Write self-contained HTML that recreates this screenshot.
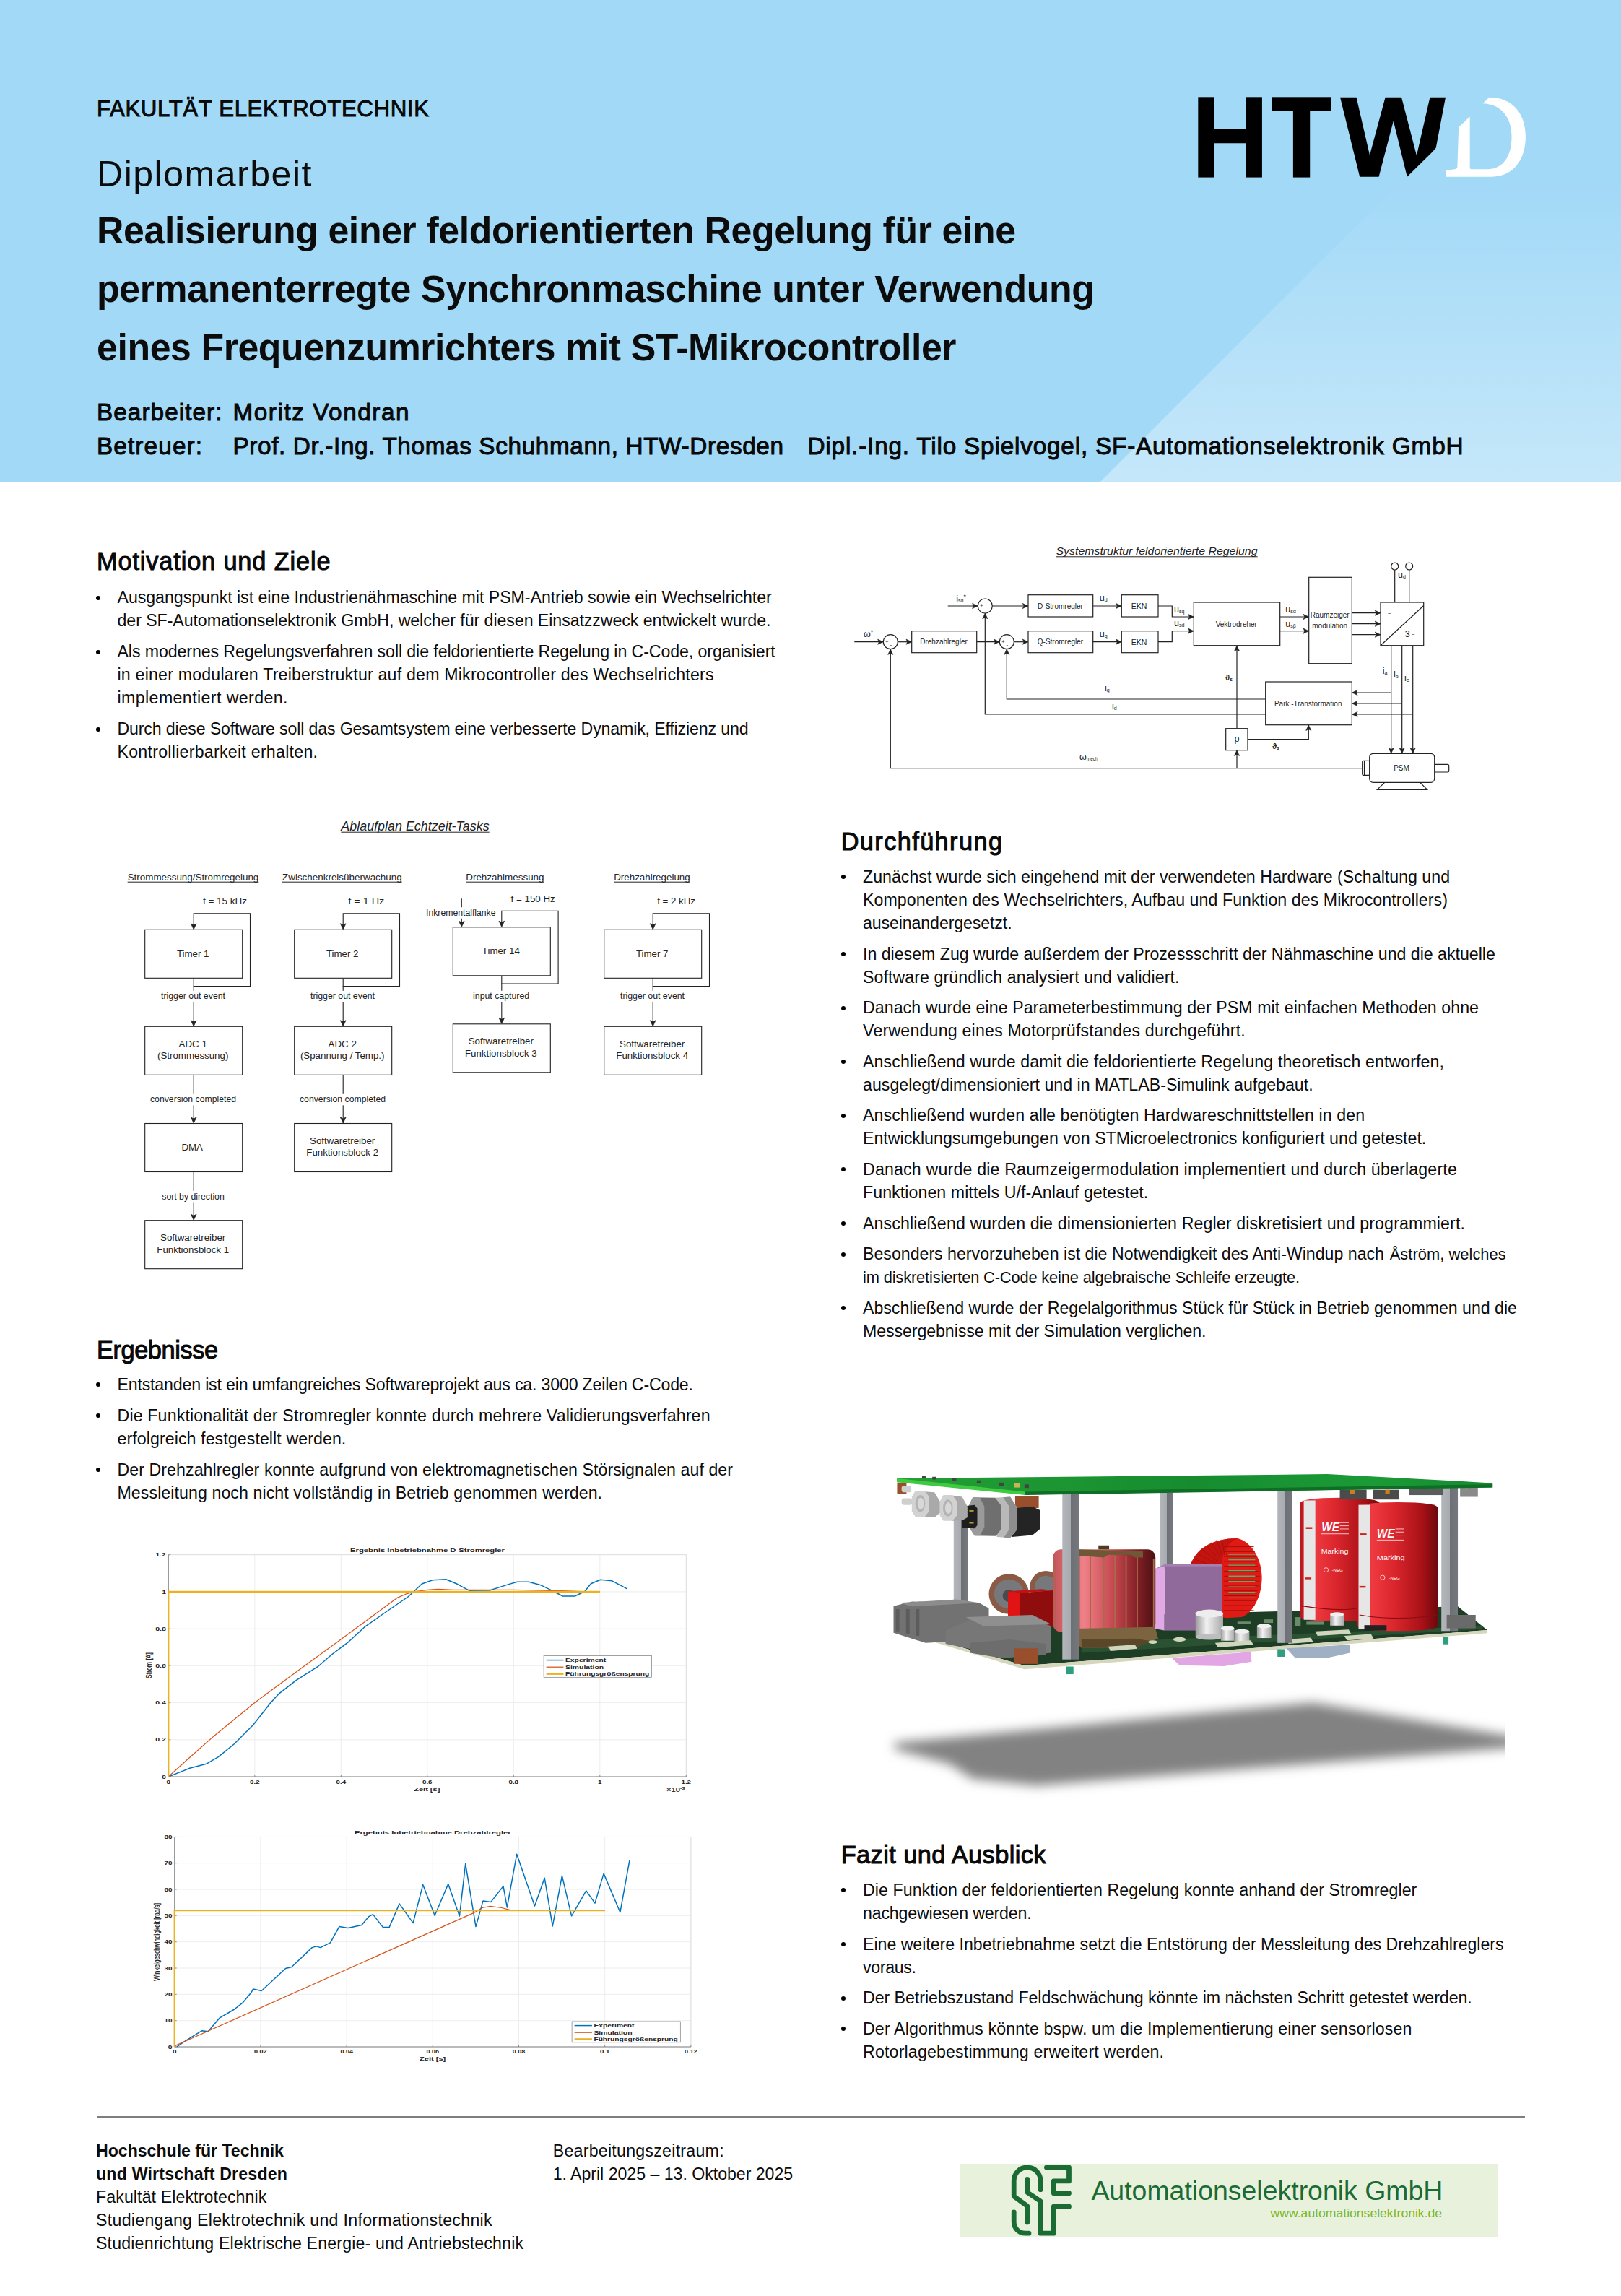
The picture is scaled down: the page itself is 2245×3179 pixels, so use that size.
<!DOCTYPE html>
<html lang="de"><head><meta charset="utf-8"><title>Poster</title>
<style>
html,body{margin:0;padding:0;background:#fff;}
body{width:2245px;height:3179px;position:relative;overflow:hidden;font-family:"Liberation Sans", sans-serif;color:#000;}
.t{position:absolute;white-space:nowrap;line-height:1;color:#0c0c0c;}
.bu{position:absolute;width:6px;height:6px;border-radius:50%;background:#000;display:block;}
.abs{position:absolute;}
svg{position:absolute;overflow:visible;}
svg text{font-family:"Liberation Sans", sans-serif;}

</style></head><body>
<div class="abs" style="left:0;top:0;width:2245px;height:667px;background:#a2d9f7;"></div>
<svg style="left:0;top:0" width="2245" height="667" viewBox="0 0 2245 667">
<defs><linearGradient id="tg" x1="0" y1="0" x2="0" y2="1"><stop offset="0" stop-color="#fff" stop-opacity="0"/><stop offset="1" stop-color="#fff" stop-opacity="0.38"/></linearGradient></defs>
<polygon points="1524,667 1941,250 2245,250 2245,667" fill="url(#tg)"/>
</svg>

<div class="t" style="left:134.0px;top:134.5px;font-size:31.26px;letter-spacing:0.597px;-webkit-text-stroke:0.88px #000;">FAKULTÄT ELEKTROTECHNIK</div>
<div class="t" style="left:134.0px;top:215.7px;font-size:50.02px;letter-spacing:1.521px;">Diplomarbeit</div>
<div class="t" style="left:134.0px;top:293.7px;font-size:51.76px;letter-spacing:-0.349px;font-weight:bold;">Realisierung einer feldorientierten Regelung für eine</div>
<div class="t" style="left:134.0px;top:374.7px;font-size:51.76px;letter-spacing:-0.319px;font-weight:bold;">permanenterregte Synchronmaschine unter Verwendung</div>
<div class="t" style="left:134.0px;top:455.7px;font-size:51.76px;letter-spacing:-0.375px;font-weight:bold;">eines Frequenzumrichters mit ST-Mikrocontroller</div>
<div class="t" style="left:134.0px;top:554.3px;font-size:33.31px;letter-spacing:1.061px;-webkit-text-stroke:0.93px #000;">Bearbeiter:</div>
<div class="t" style="left:322.5px;top:554.3px;font-size:33.31px;letter-spacing:1.542px;-webkit-text-stroke:0.93px #000;">Moritz Vondran</div>
<div class="t" style="left:134.0px;top:600.8px;font-size:33.31px;letter-spacing:1.129px;-webkit-text-stroke:0.93px #000;">Betreuer:</div>
<div class="t" style="left:322.5px;top:600.8px;font-size:33.31px;letter-spacing:0.633px;-webkit-text-stroke:0.93px #000;">Prof. Dr.-Ing. Thomas Schuhmann, HTW-Dresden</div>
<div class="t" style="left:1118.5px;top:600.8px;font-size:33.31px;letter-spacing:0.815px;-webkit-text-stroke:0.93px #000;">Dipl.-Ing. Tilo Spielvogel, SF-Automationselektronik GmbH</div>
<div class="t" style="left:134.0px;top:759.9px;font-size:34.34px;letter-spacing:0.857px;-webkit-text-stroke:0.96px #000;">Motivation und Ziele</div>
<div class="t" style="left:162.5px;top:816.4px;font-size:23.16px;letter-spacing:-0.040px;">Ausgangspunkt ist eine Industrienähmaschine mit PSM-Antrieb sowie ein Wechselrichter</div>
<i class="bu" style="left:132.5px;top:824.5px"></i>
<div class="t" style="left:162.5px;top:848.4px;font-size:23.16px;letter-spacing:-0.060px;">der SF-Automationselektronik GmbH, welcher für diesen Einsatzzweck entwickelt wurde.</div>
<div class="t" style="left:162.5px;top:891.4px;font-size:23.16px;letter-spacing:-0.090px;">Als modernes Regelungsverfahren soll die feldorientierte Regelung in C-Code, organisiert</div>
<i class="bu" style="left:132.5px;top:899.5px"></i>
<div class="t" style="left:162.5px;top:923.4px;font-size:23.16px;letter-spacing:0.203px;">in einer modularen Treiberstruktur auf dem Mikrocontroller des Wechselrichters</div>
<div class="t" style="left:162.5px;top:955.4px;font-size:23.16px;letter-spacing:0.409px;">implementiert werden.</div>
<div class="t" style="left:162.5px;top:998.4px;font-size:23.16px;letter-spacing:-0.152px;">Durch diese Software soll das Gesamtsystem eine verbesserte Dynamik, Effizienz und</div>
<i class="bu" style="left:132.5px;top:1006.5px"></i>
<div class="t" style="left:162.5px;top:1030.4px;font-size:23.16px;letter-spacing:0.266px;">Kontrollierbarkeit erhalten.</div>
<div class="t" style="left:134.0px;top:1851.9px;font-size:34.34px;letter-spacing:-0.417px;-webkit-text-stroke:0.96px #000;">Ergebnisse</div>
<div class="t" style="left:162.5px;top:1905.8px;font-size:23.16px;letter-spacing:-0.179px;">Entstanden ist ein umfangreiches Softwareprojekt aus ca. 3000 Zeilen C-Code.</div>
<i class="bu" style="left:132.5px;top:1913.9px"></i>
<div class="t" style="left:162.5px;top:1948.7px;font-size:23.16px;letter-spacing:0.156px;">Die Funktionalität der Stromregler konnte durch mehrere Validierungsverfahren</div>
<i class="bu" style="left:132.5px;top:1956.8px"></i>
<div class="t" style="left:162.5px;top:1980.9px;font-size:23.16px;letter-spacing:0.088px;">erfolgreich festgestellt werden.</div>
<div class="t" style="left:162.5px;top:2023.8px;font-size:23.16px;letter-spacing:0.071px;">Der Drehzahlregler konnte aufgrund von elektromagnetischen Störsignalen auf der</div>
<i class="bu" style="left:132.5px;top:2031.9px"></i>
<div class="t" style="left:162.5px;top:2056.0px;font-size:23.16px;letter-spacing:0.078px;">Messleitung noch nicht vollständig in Betrieb genommen werden.</div>
<div class="t" style="left:1164.7px;top:1148.4px;font-size:34.34px;letter-spacing:1.391px;-webkit-text-stroke:0.96px #000;">Durchführung</div>
<div class="t" style="left:1195.0px;top:1202.9px;font-size:23.16px;letter-spacing:0.011px;">Zunächst wurde sich eingehend mit der verwendeten Hardware (Schaltung und</div>
<i class="bu" style="left:1164.5px;top:1211.3px"></i>
<div class="t" style="left:1195.0px;top:1235.0px;font-size:23.16px;letter-spacing:0.063px;">Komponenten des Wechselrichters, Aufbau und Funktion des Mikrocontrollers)</div>
<div class="t" style="left:1195.0px;top:1267.1px;font-size:23.16px;letter-spacing:-0.109px;">auseinandergesetzt.</div>
<div class="t" style="left:1195.0px;top:1309.6px;font-size:23.16px;letter-spacing:-0.008px;">In diesem Zug wurde außerdem der Prozessschritt der Nähmaschine und die aktuelle</div>
<i class="bu" style="left:1164.5px;top:1318.0px"></i>
<div class="t" style="left:1195.0px;top:1341.7px;font-size:23.16px;letter-spacing:0.080px;">Software gründlich analysiert und validiert.</div>
<div class="t" style="left:1195.0px;top:1384.3px;font-size:23.16px;letter-spacing:0.066px;">Danach wurde eine Parameterbestimmung der PSM mit einfachen Methoden ohne</div>
<i class="bu" style="left:1164.5px;top:1392.7px"></i>
<div class="t" style="left:1195.0px;top:1416.3px;font-size:23.16px;letter-spacing:0.212px;">Verwendung eines Motorprüfstandes durchgeführt.</div>
<div class="t" style="left:1195.0px;top:1458.9px;font-size:23.16px;letter-spacing:0.110px;">Anschließend wurde damit die feldorientierte Regelung theoretisch entworfen,</div>
<i class="bu" style="left:1164.5px;top:1467.3px"></i>
<div class="t" style="left:1195.0px;top:1490.7px;font-size:23.16px;letter-spacing:0.019px;">ausgelegt/dimensioniert und in MATLAB-Simulink aufgebaut.</div>
<div class="t" style="left:1195.0px;top:1533.3px;font-size:23.16px;letter-spacing:0.079px;">Anschließend wurden alle benötigten Hardwareschnittstellen in den</div>
<i class="bu" style="left:1164.5px;top:1541.7px"></i>
<div class="t" style="left:1195.0px;top:1565.4px;font-size:23.16px;letter-spacing:0.022px;">Entwicklungsumgebungen von STMicroelectronics konfiguriert und getestet.</div>
<div class="t" style="left:1195.0px;top:1607.9px;font-size:23.16px;letter-spacing:0.183px;">Danach wurde die Raumzeigermodulation implementiert und durch überlagerte</div>
<i class="bu" style="left:1164.5px;top:1616.3px"></i>
<div class="t" style="left:1195.0px;top:1640.0px;font-size:23.16px;letter-spacing:0.072px;">Funktionen mittels U/f-Anlauf getestet.</div>
<div class="t" style="left:1195.0px;top:1682.6px;font-size:23.16px;letter-spacing:0.133px;">Anschließend wurden die dimensionierten Regler diskretisiert und programmiert.</div>
<i class="bu" style="left:1164.5px;top:1691.0px"></i>
<div class="t" style="left:1195.0px;top:1725.1px;font-size:23.16px;letter-spacing:-0.002px;">Besonders hervorzuheben ist die Notwendigkeit des Anti-Windup nach</div>
<i class="bu" style="left:1164.5px;top:1733.5px"></i>
<div class="t" style="left:1924.7px;top:1726.2px;font-size:21.83px;letter-spacing:0.062px;">Åström, welches</div>
<div class="t" style="left:1195.0px;top:1758.3px;font-size:21.83px;letter-spacing:-0.144px;">im diskretisierten C-Code keine algebraische Schleife erzeugte.</div>
<div class="t" style="left:1195.0px;top:1799.8px;font-size:23.16px;letter-spacing:-0.018px;">Abschließend wurde der Regelalgorithmus Stück für Stück in Betrieb genommen und die</div>
<i class="bu" style="left:1164.5px;top:1808.2px"></i>
<div class="t" style="left:1195.0px;top:1831.9px;font-size:23.16px;letter-spacing:-0.075px;">Messergebnisse mit der Simulation verglichen.</div>
<div class="t" style="left:1164.7px;top:2551.4px;font-size:34.34px;letter-spacing:0.419px;-webkit-text-stroke:0.96px #000;">Fazit und Ausblick</div>
<div class="t" style="left:1195.0px;top:2606.0px;font-size:23.16px;letter-spacing:0.074px;">Die Funktion der feldorientierten Regelung konnte anhand der Stromregler</div>
<i class="bu" style="left:1164.5px;top:2614.4px"></i>
<div class="t" style="left:1195.0px;top:2638.1px;font-size:23.16px;letter-spacing:-0.167px;">nachgewiesen werden.</div>
<div class="t" style="left:1195.0px;top:2680.6px;font-size:23.16px;letter-spacing:-0.022px;">Eine weitere Inbetriebnahme setzt die Entstörung der Messleitung des Drehzahlreglers</div>
<i class="bu" style="left:1164.5px;top:2689.0px"></i>
<div class="t" style="left:1195.0px;top:2712.7px;font-size:23.16px;letter-spacing:-0.323px;">voraus.</div>
<div class="t" style="left:1195.0px;top:2755.3px;font-size:23.16px;letter-spacing:-0.041px;">Der Betriebszustand Feldschwächung könnte im nächsten Schritt getestet werden.</div>
<i class="bu" style="left:1164.5px;top:2763.7px"></i>
<div class="t" style="left:1195.0px;top:2797.8px;font-size:23.16px;letter-spacing:0.148px;">Der Algorithmus könnte bspw. um die Implementierung einer sensorlosen</div>
<i class="bu" style="left:1164.5px;top:2806.2px"></i>
<div class="t" style="left:1195.0px;top:2829.9px;font-size:23.16px;letter-spacing:0.178px;">Rotorlagebestimmung erweitert werden.</div>
<div class="t" style="left:133.0px;top:2967.3px;font-size:23.16px;letter-spacing:-0.037px;font-weight:bold;">Hochschule für Technik</div>
<div class="t" style="left:133.0px;top:2999.2px;font-size:23.16px;letter-spacing:0.191px;font-weight:bold;">und Wirtschaft Dresden</div>
<div class="t" style="left:133.0px;top:3031.1px;font-size:23.16px;letter-spacing:0.098px;">Fakultät Elektrotechnik</div>
<div class="t" style="left:133.0px;top:3062.9px;font-size:23.16px;letter-spacing:0.293px;">Studiengang Elektrotechnik und Informationstechnik</div>
<div class="t" style="left:133.0px;top:3094.8px;font-size:23.16px;letter-spacing:0.162px;">Studienrichtung Elektrische Energie- und Antriebstechnik</div>
<div class="t" style="left:765.7px;top:2967.3px;font-size:23.16px;letter-spacing:0.261px;">Bearbeitungszeitraum:</div>
<div class="t" style="left:765.7px;top:2999.2px;font-size:23.16px;letter-spacing:-0.030px;">1. April 2025 – 13. Oktober 2025</div>
<svg style="left:0;top:1100px" width="1123" height="700" viewBox="0 1100 1123 700">
<text x="472.3" y="1150.0" font-size="18.4" fill="#222" textLength="205.4" lengthAdjust="spacingAndGlyphs" font-style="italic">Ablaufplan Echtzeit-Tasks</text>
<line x1="472.3" y1="1152.2" x2="677.7" y2="1152.2" stroke="#222" stroke-width="1"/>
<text x="176.7" y="1219.0" font-size="13.3" fill="#222" textLength="181.6" lengthAdjust="spacingAndGlyphs">Strommessung/Stromregelung</text>
<line x1="176.7" y1="1221.2" x2="358.3" y2="1221.2" stroke="#222" stroke-width="1"/>
<text x="391.0" y="1219.0" font-size="13.3" fill="#222" textLength="165.7" lengthAdjust="spacingAndGlyphs">Zwischenkreisüberwachung</text>
<line x1="391.0" y1="1221.2" x2="556.7" y2="1221.2" stroke="#222" stroke-width="1"/>
<text x="645.2" y="1219.0" font-size="13.3" fill="#222" textLength="108.4" lengthAdjust="spacingAndGlyphs">Drehzahlmessung</text>
<line x1="645.2" y1="1221.2" x2="753.6" y2="1221.2" stroke="#222" stroke-width="1"/>
<text x="850.2" y="1219.0" font-size="13.3" fill="#222" textLength="105.5" lengthAdjust="spacingAndGlyphs">Drehzahlregelung</text>
<line x1="850.2" y1="1221.2" x2="955.7" y2="1221.2" stroke="#222" stroke-width="1"/>
<polyline points="268.2,1354.3 268.2,1365.6 346.5,1365.6 346.5,1264.8 268.2,1264.8 268.2,1282.3" fill="none" stroke="#222" stroke-width="1.1"/>
<path d="M268.2 1286.8 L264.4 1278.8 L268.2 1280.8 L272.0 1278.8 Z" fill="#222" stroke="#222" stroke-width="0.8"/>
<rect x="200.7" y="1287.3" width="135.0" height="67.0" fill="#fff" stroke="#222" stroke-width="1.1"/>
<text x="267.2" y="1324.8" font-size="13.3" text-anchor="middle" fill="#222">Timer 1</text>
<text x="281.0" y="1252.3" font-size="13.3" text-anchor="start" fill="#222" textLength="61.0" lengthAdjust="spacingAndGlyphs">f = 15 kHz</text>
<polyline points="268.2,1365.3 268.2,1416.3" fill="none" stroke="#222" stroke-width="1.1"/>
<path d="M268.2 1420.8 L264.4 1412.8 L268.2 1414.8 L272.0 1412.8 Z" fill="#222" stroke="#222" stroke-width="0.8"/>
<rect x="222.0" y="1371.8" width="91.0" height="15.5" fill="#fff"/>
<text x="267.5" y="1383.3" font-size="13.3" text-anchor="middle" fill="#222" textLength="89.0" lengthAdjust="spacingAndGlyphs">trigger out event</text>
<polyline points="475.2,1354.3 475.2,1365.6 553.5,1365.6 553.5,1264.8 475.2,1264.8 475.2,1282.3" fill="none" stroke="#222" stroke-width="1.1"/>
<path d="M475.2 1286.8 L471.4 1278.8 L475.2 1280.8 L479.0 1278.8 Z" fill="#222" stroke="#222" stroke-width="0.8"/>
<rect x="407.7" y="1287.3" width="135.0" height="67.0" fill="#fff" stroke="#222" stroke-width="1.1"/>
<text x="474.2" y="1324.8" font-size="13.3" text-anchor="middle" fill="#222">Timer 2</text>
<text x="482.3" y="1252.3" font-size="13.3" text-anchor="start" fill="#222" textLength="50.0" lengthAdjust="spacingAndGlyphs">f  = 1 Hz</text>
<polyline points="475.2,1365.3 475.2,1416.3" fill="none" stroke="#222" stroke-width="1.1"/>
<path d="M475.2 1420.8 L471.4 1412.8 L475.2 1414.8 L479.0 1412.8 Z" fill="#222" stroke="#222" stroke-width="0.8"/>
<rect x="429.0" y="1371.8" width="91.0" height="15.5" fill="#fff"/>
<text x="474.5" y="1383.3" font-size="13.3" text-anchor="middle" fill="#222" textLength="89.0" lengthAdjust="spacingAndGlyphs">trigger out event</text>
<polyline points="694.8,1350.8 694.8,1362.1 773.1,1362.1 773.1,1261.3 694.8,1261.3 694.8,1278.8" fill="none" stroke="#222" stroke-width="1.1"/>
<path d="M694.8 1283.3 L691.0 1275.3 L694.8 1277.3 L698.6 1275.3 Z" fill="#222" stroke="#222" stroke-width="0.8"/>
<rect x="627.3" y="1283.8" width="135.0" height="67.0" fill="#fff" stroke="#222" stroke-width="1.1"/>
<text x="693.8" y="1321.3" font-size="13.3" text-anchor="middle" fill="#222">Timer 14</text>
<text x="707.6" y="1248.5" font-size="13.3" text-anchor="start" fill="#222" textLength="61.1" lengthAdjust="spacingAndGlyphs">f = 150 Hz</text>
<polyline points="694.8,1361.8 694.8,1412.8" fill="none" stroke="#222" stroke-width="1.1"/>
<path d="M694.8 1417.3 L691.0 1409.3 L694.8 1411.3 L698.6 1409.3 Z" fill="#222" stroke="#222" stroke-width="0.8"/>
<rect x="654.1" y="1371.8" width="80.0" height="15.5" fill="#fff"/>
<text x="694.1" y="1383.3" font-size="13.3" text-anchor="middle" fill="#222" textLength="78.0" lengthAdjust="spacingAndGlyphs">input captured</text>
<polyline points="904.2,1354.3 904.2,1365.6 982.5,1365.6 982.5,1264.8 904.2,1264.8 904.2,1282.3" fill="none" stroke="#222" stroke-width="1.1"/>
<path d="M904.2 1286.8 L900.4 1278.8 L904.2 1280.8 L908.0 1278.8 Z" fill="#222" stroke="#222" stroke-width="0.8"/>
<rect x="836.7" y="1287.3" width="135.0" height="67.0" fill="#fff" stroke="#222" stroke-width="1.1"/>
<text x="903.2" y="1324.8" font-size="13.3" text-anchor="middle" fill="#222">Timer 7</text>
<text x="910.2" y="1252.3" font-size="13.3" text-anchor="start" fill="#222" textLength="52.8" lengthAdjust="spacingAndGlyphs">f = 2 kHz</text>
<polyline points="904.2,1365.3 904.2,1416.3" fill="none" stroke="#222" stroke-width="1.1"/>
<path d="M904.2 1420.8 L900.4 1412.8 L904.2 1414.8 L908.0 1412.8 Z" fill="#222" stroke="#222" stroke-width="0.8"/>
<rect x="858.0" y="1371.8" width="91.0" height="15.5" fill="#fff"/>
<text x="903.5" y="1383.3" font-size="13.3" text-anchor="middle" fill="#222" textLength="89.0" lengthAdjust="spacingAndGlyphs">trigger out event</text>
<polyline points="639.3,1244.3 639.3,1279.0" fill="none" stroke="#222" stroke-width="1.1"/>
<path d="M639.3 1283.3 L635.5 1275.3 L639.3 1277.3 L643.1 1275.3 Z" fill="#222" stroke="#222" stroke-width="0.8"/>
<rect x="589.0" y="1256.2" width="98.5" height="15.5" fill="#fff"/>
<text x="638.3" y="1267.7" font-size="13.3" text-anchor="middle" fill="#222" textLength="96.5" lengthAdjust="spacingAndGlyphs">Inkrementalflanke</text>
<rect x="200.7" y="1421.3" width="135.0" height="67.0" fill="#fff" stroke="#222" stroke-width="1.1"/>
<text x="267.2" y="1449.9" font-size="13.3" text-anchor="middle" fill="#222">ADC 1</text>
<text x="267.2" y="1466.2" font-size="13.3" text-anchor="middle" fill="#222">(Strommessung)</text>
<polyline points="268.2,1488.3 268.2,1550.5" fill="none" stroke="#222" stroke-width="1.1"/>
<path d="M268.2 1555.0 L264.4 1547.0 L268.2 1549.0 L272.0 1547.0 Z" fill="#222" stroke="#222" stroke-width="0.8"/>
<rect x="207.0" y="1514.8" width="121.0" height="15.5" fill="#fff"/>
<text x="267.5" y="1526.3" font-size="13.3" text-anchor="middle" fill="#222" textLength="119.0" lengthAdjust="spacingAndGlyphs">conversion completed</text>
<rect x="200.7" y="1555.5" width="135.0" height="67.0" fill="#fff" stroke="#222" stroke-width="1.1"/>
<text x="266.2" y="1593.0" font-size="13.3" text-anchor="middle" fill="#222">DMA</text>
<polyline points="268.2,1622.5 268.2,1684.7" fill="none" stroke="#222" stroke-width="1.1"/>
<path d="M268.2 1689.2 L264.4 1681.2 L268.2 1683.2 L272.0 1681.2 Z" fill="#222" stroke="#222" stroke-width="0.8"/>
<rect x="223.2" y="1649.0" width="88.5" height="15.5" fill="#fff"/>
<text x="267.5" y="1660.5" font-size="13.3" text-anchor="middle" fill="#222" textLength="86.5" lengthAdjust="spacingAndGlyphs">sort by direction</text>
<rect x="200.7" y="1689.7" width="135.0" height="67.0" fill="#fff" stroke="#222" stroke-width="1.1"/>
<text x="267.2" y="1718.3" font-size="13.3" text-anchor="middle" fill="#222">Softwaretreiber</text>
<text x="267.2" y="1734.6" font-size="13.3" text-anchor="middle" fill="#222">Funktionsblock 1</text>
<rect x="407.7" y="1421.3" width="135.0" height="67.0" fill="#fff" stroke="#222" stroke-width="1.1"/>
<text x="474.2" y="1449.9" font-size="13.3" text-anchor="middle" fill="#222">ADC 2</text>
<text x="474.2" y="1466.2" font-size="13.3" text-anchor="middle" fill="#222">(Spannung / Temp.)</text>
<polyline points="475.2,1488.3 475.2,1550.5" fill="none" stroke="#222" stroke-width="1.1"/>
<path d="M475.2 1555.0 L471.4 1547.0 L475.2 1549.0 L479.0 1547.0 Z" fill="#222" stroke="#222" stroke-width="0.8"/>
<rect x="414.0" y="1514.8" width="121.0" height="15.5" fill="#fff"/>
<text x="474.5" y="1526.3" font-size="13.3" text-anchor="middle" fill="#222" textLength="119.0" lengthAdjust="spacingAndGlyphs">conversion completed</text>
<rect x="407.7" y="1555.5" width="135.0" height="67.0" fill="#fff" stroke="#222" stroke-width="1.1"/>
<text x="474.2" y="1584.1" font-size="13.3" text-anchor="middle" fill="#222">Softwaretreiber</text>
<text x="474.2" y="1600.4" font-size="13.3" text-anchor="middle" fill="#222">Funktionsblock 2</text>
<rect x="627.3" y="1417.8" width="135.0" height="67.0" fill="#fff" stroke="#222" stroke-width="1.1"/>
<text x="693.8" y="1446.4" font-size="13.3" text-anchor="middle" fill="#222">Softwaretreiber</text>
<text x="693.8" y="1462.7" font-size="13.3" text-anchor="middle" fill="#222">Funktionsblock 3</text>
<rect x="836.7" y="1421.3" width="135.0" height="67.0" fill="#fff" stroke="#222" stroke-width="1.1"/>
<text x="903.2" y="1449.9" font-size="13.3" text-anchor="middle" fill="#222">Softwaretreiber</text>
<text x="903.2" y="1466.2" font-size="13.3" text-anchor="middle" fill="#222">Funktionsblock 4</text>
</svg>
<svg style="left:1123px;top:730px" width="1122" height="400" viewBox="1123 730 1122 400">
<text x="1462.5" y="768.3" font-size="15.2" font-style="italic" fill="#222" textLength="279" lengthAdjust="spacingAndGlyphs">Systemstruktur feldorientierte Regelung</text>
<line x1="1462.5" y1="770.8" x2="1741.7" y2="770.8" stroke="#222" stroke-width="1"/>
<polyline points="1752.7,968.0 1394.3,968.0 1394.3,898.9" fill="none" stroke="#222" stroke-width="1.2"/>
<polygon points="1394.3,898.9 1390.7,906.4 1394.3,904.6 1397.9,906.4" fill="#222" stroke="#222" stroke-width="0.6"/>
<polyline points="1752.7,989.0 1364.3,989.0 1364.3,849.2" fill="none" stroke="#222" stroke-width="1.2"/>
<polygon points="1364.3,849.2 1360.7,856.7 1364.3,854.9 1367.9,856.7" fill="#222" stroke="#222" stroke-width="0.6"/>
<polyline points="1886.7,1063.7 1233.3,1063.7 1233.3,898.9" fill="none" stroke="#222" stroke-width="1.2"/>
<polygon points="1233.3,898.9 1229.7,906.4 1233.3,904.6 1236.9,906.4" fill="#222" stroke="#222" stroke-width="0.6"/>
<polyline points="1713.0,1063.7 1713.0,1038.9" fill="none" stroke="#222" stroke-width="1.2"/>
<polygon points="1713.0,1038.9 1709.4,1046.4 1713.0,1044.6 1716.6,1046.4" fill="#222" stroke="#222" stroke-width="0.6"/>
<polyline points="1713.0,1008.7 1713.0,894.0" fill="none" stroke="#222" stroke-width="1.2"/>
<polygon points="1713.0,894.0 1709.4,901.5 1713.0,899.7 1716.6,901.5" fill="#222" stroke="#222" stroke-width="0.6"/>
<polyline points="1728.0,1023.7 1812.3,1023.7 1812.3,1004.0" fill="none" stroke="#222" stroke-width="1.2"/>
<polygon points="1812.3,1004.0 1808.7,1011.5 1812.3,1009.7 1815.9,1011.5" fill="#222" stroke="#222" stroke-width="0.6"/>
<polyline points="1183.3,888.7 1223.1,888.7" fill="none" stroke="#222" stroke-width="1.2"/>
<polygon points="1223.1,888.7 1215.6,885.1 1217.4,888.7 1215.6,892.3" fill="#222" stroke="#222" stroke-width="0.6"/>
<polyline points="1243.3,888.7 1262.5,888.7" fill="none" stroke="#222" stroke-width="1.2"/>
<polygon points="1262.5,888.7 1255.0,885.1 1256.8,888.7 1255.0,892.3" fill="#222" stroke="#222" stroke-width="0.6"/>
<polyline points="1352.7,888.7 1384.1,888.7" fill="none" stroke="#222" stroke-width="1.2"/>
<polygon points="1384.1,888.7 1376.6,885.1 1378.4,888.7 1376.6,892.3" fill="#222" stroke="#222" stroke-width="0.6"/>
<polyline points="1404.3,888.7 1423.8,888.7" fill="none" stroke="#222" stroke-width="1.2"/>
<polygon points="1423.8,888.7 1416.3,885.1 1418.1,888.7 1416.3,892.3" fill="#222" stroke="#222" stroke-width="0.6"/>
<polyline points="1312.7,839.0 1354.1,839.0" fill="none" stroke="#222" stroke-width="1.2"/>
<polygon points="1354.1,839.0 1346.6,835.4 1348.4,839.0 1346.6,842.6" fill="#222" stroke="#222" stroke-width="0.6"/>
<polyline points="1374.3,839.0 1423.8,839.0" fill="none" stroke="#222" stroke-width="1.2"/>
<polygon points="1423.8,839.0 1416.3,835.4 1418.1,839.0 1416.3,842.6" fill="#222" stroke="#222" stroke-width="0.6"/>
<polyline points="1513.7,839.0 1553.1,839.0" fill="none" stroke="#222" stroke-width="1.2"/>
<polygon points="1553.1,839.0 1545.6,835.4 1547.4,839.0 1545.6,842.6" fill="#222" stroke="#222" stroke-width="0.6"/>
<polyline points="1513.7,888.7 1553.1,888.7" fill="none" stroke="#222" stroke-width="1.2"/>
<polygon points="1553.1,888.7 1545.6,885.1 1547.4,888.7 1545.6,892.3" fill="#222" stroke="#222" stroke-width="0.6"/>
<polyline points="1604.0,839.0 1623.3,839.0 1623.3,854.0 1653.1,854.0" fill="none" stroke="#222" stroke-width="1.2"/>
<polygon points="1653.1,854.0 1645.6,850.4 1647.4,854.0 1645.6,857.6" fill="#222" stroke="#222" stroke-width="0.6"/>
<polyline points="1604.0,888.7 1623.3,888.7 1623.3,873.7 1653.1,873.7" fill="none" stroke="#222" stroke-width="1.2"/>
<polygon points="1653.1,873.7 1645.6,870.1 1647.4,873.7 1645.6,877.3" fill="#222" stroke="#222" stroke-width="0.6"/>
<polyline points="1772.7,854.0 1812.5,854.0" fill="none" stroke="#222" stroke-width="1.2"/>
<polygon points="1812.5,854.0 1805.0,850.4 1806.8,854.0 1805.0,857.6" fill="#222" stroke="#222" stroke-width="0.6"/>
<polyline points="1772.7,873.7 1812.5,873.7" fill="none" stroke="#222" stroke-width="1.2"/>
<polygon points="1812.5,873.7 1805.0,870.1 1806.8,873.7 1805.0,877.3" fill="#222" stroke="#222" stroke-width="0.6"/>
<polyline points="1872.3,848.7 1911.8,848.7" fill="none" stroke="#222" stroke-width="1.2"/>
<polygon points="1911.8,848.7 1904.3,845.1 1906.1,848.7 1904.3,852.3" fill="#222" stroke="#222" stroke-width="0.6"/>
<polyline points="1872.3,863.7 1911.8,863.7" fill="none" stroke="#222" stroke-width="1.2"/>
<polygon points="1911.8,863.7 1904.3,860.1 1906.1,863.7 1904.3,867.3" fill="#222" stroke="#222" stroke-width="0.6"/>
<polyline points="1872.3,878.7 1911.8,878.7" fill="none" stroke="#222" stroke-width="1.2"/>
<polygon points="1911.8,878.7 1904.3,875.1 1906.1,878.7 1904.3,882.3" fill="#222" stroke="#222" stroke-width="0.6"/>
<polyline points="1926.7,893.7 1926.7,1043.1" fill="none" stroke="#222" stroke-width="1.2"/>
<polygon points="1926.7,1043.1 1923.1,1035.6 1926.7,1037.4 1930.3,1035.6" fill="#222" stroke="#222" stroke-width="0.6"/>
<polyline points="1926.7,959.0 1872.6,959.0" fill="none" stroke="#222" stroke-width="1.2"/>
<polygon points="1872.6,959.0 1880.1,955.4 1878.3,959.0 1880.1,962.6" fill="#222" stroke="#222" stroke-width="0.6"/>
<polyline points="1941.7,893.7 1941.7,1043.1" fill="none" stroke="#222" stroke-width="1.2"/>
<polygon points="1941.7,1043.1 1938.1,1035.6 1941.7,1037.4 1945.3,1035.6" fill="#222" stroke="#222" stroke-width="0.6"/>
<polyline points="1941.7,974.0 1872.6,974.0" fill="none" stroke="#222" stroke-width="1.2"/>
<polygon points="1872.6,974.0 1880.1,970.4 1878.3,974.0 1880.1,977.6" fill="#222" stroke="#222" stroke-width="0.6"/>
<polyline points="1956.7,893.7 1956.7,1043.1" fill="none" stroke="#222" stroke-width="1.2"/>
<polygon points="1956.7,1043.1 1953.1,1035.6 1956.7,1037.4 1960.3,1035.6" fill="#222" stroke="#222" stroke-width="0.6"/>
<polyline points="1956.7,989.0 1872.6,989.0" fill="none" stroke="#222" stroke-width="1.2"/>
<polygon points="1872.6,989.0 1880.1,985.4 1878.3,989.0 1880.1,992.6" fill="#222" stroke="#222" stroke-width="0.6"/>
<polyline points="1931.7,789.0 1931.7,834.0" fill="none" stroke="#222" stroke-width="1.2"/>
<circle cx="1931.7" cy="784.0" r="5.0" fill="#fff" stroke="#222" stroke-width="1.2"/>
<polyline points="1951.7,789.0 1951.7,834.0" fill="none" stroke="#222" stroke-width="1.2"/>
<circle cx="1951.7" cy="784.0" r="5.0" fill="#fff" stroke="#222" stroke-width="1.2"/>
<circle cx="1233.3" cy="888.7" r="10.0" fill="#fff" stroke="#222" stroke-width="1.2"/>
<text x="1228.3" y="890.7" font-size="7" text-anchor="middle" fill="#222">+</text>
<text x="1233.8" y="895.2" font-size="8" text-anchor="middle" fill="#222">-</text>
<circle cx="1364.3" cy="839.0" r="10.0" fill="#fff" stroke="#222" stroke-width="1.2"/>
<text x="1359.3" y="841.0" font-size="7" text-anchor="middle" fill="#222">+</text>
<text x="1364.8" y="845.5" font-size="8" text-anchor="middle" fill="#222">-</text>
<circle cx="1394.3" cy="888.7" r="10.0" fill="#fff" stroke="#222" stroke-width="1.2"/>
<text x="1389.3" y="890.7" font-size="7" text-anchor="middle" fill="#222">+</text>
<text x="1394.8" y="895.2" font-size="8" text-anchor="middle" fill="#222">-</text>
<rect x="1262.7" y="873.7" width="90.0" height="30.0" rx="0" fill="#fff" stroke="#222" stroke-width="1.2"/>
<text x="1307.0" y="892.3" font-size="10" text-anchor="middle" fill="#222">Drehzahlregler</text>
<rect x="1424.0" y="823.7" width="89.7" height="30.3" rx="0" fill="#fff" stroke="#222" stroke-width="1.2"/>
<text x="1468.5" y="842.6" font-size="10" text-anchor="middle" fill="#222">D-Stromregler</text>
<rect x="1424.0" y="873.7" width="89.7" height="30.0" rx="0" fill="#fff" stroke="#222" stroke-width="1.2"/>
<text x="1468.5" y="892.3" font-size="10" text-anchor="middle" fill="#222">Q-Stromregler</text>
<rect x="1553.3" y="823.7" width="50.7" height="30.3" rx="0" fill="#fff" stroke="#222" stroke-width="1.2"/>
<text x="1577.5" y="842.8" font-size="10.5" text-anchor="middle" fill="#222">EKN</text>
<rect x="1553.3" y="873.7" width="50.7" height="30.0" rx="0" fill="#fff" stroke="#222" stroke-width="1.2"/>
<text x="1577.5" y="892.5" font-size="10.5" text-anchor="middle" fill="#222">EKN</text>
<rect x="1653.3" y="834.0" width="119.4" height="59.7" rx="0" fill="#fff" stroke="#222" stroke-width="1.2"/>
<text x="1712.3" y="867.7" font-size="10" text-anchor="middle" fill="#222">Vektrodreher</text>
<rect x="1812.7" y="799.3" width="59.6" height="119.4" rx="0" fill="#fff" stroke="#222" stroke-width="1.2"/>
<text x="1841.7" y="855.0" font-size="10" text-anchor="middle" fill="#222">Raumzeiger</text>
<text x="1841.7" y="869.6" font-size="10" text-anchor="middle" fill="#222">modulation</text>
<rect x="1912.0" y="834.0" width="59.7" height="59.7" rx="0" fill="#fff" stroke="#222" stroke-width="1.2"/>
<polyline points="1912.0,893.7 1971.7,838.5" fill="none" stroke="#222" stroke-width="1.2"/>
<text x="1921.7" y="851.0" font-size="9" text-anchor="start" fill="#222">=</text>
<text x="1945.7" y="882.3" font-size="12.5" text-anchor="start" fill="#222">3</text>
<text x="1954.7" y="881.0" font-size="8" text-anchor="start" fill="#222">~</text>
<rect x="1752.7" y="944.0" width="119.6" height="59.7" rx="0" fill="#fff" stroke="#222" stroke-width="1.2"/>
<text x="1811.7" y="977.5" font-size="10" text-anchor="middle" fill="#222">Park -Transformation</text>
<rect x="1697.7" y="1008.7" width="30.3" height="30.0" rx="0" fill="#fff" stroke="#222" stroke-width="1.2"/>
<text x="1713.0" y="1026.7" font-size="12.5" text-anchor="middle" fill="#222">p</text>
<rect x="1886.7" y="1053.3" width="10.3" height="20.0" rx="1.5" fill="#fff" stroke="#222" stroke-width="1.2"/>
<polyline points="1889.5,1053.3 1889.5,1073.3" fill="none" stroke="#222" stroke-width="1.2"/>
<rect x="1986.4" y="1058.3" width="20.3" height="10.7" rx="2" fill="#fff" stroke="#222" stroke-width="1.2"/>
<polygon points="1917.7,1083.3 1966.7,1083.3 1976.7,1093.3 1907.3,1093.3" fill="#fff" stroke="#222" stroke-width="1.2"/>
<rect x="1896.7" y="1043.3" width="90.0" height="40.0" rx="5" fill="#fff" stroke="#222" stroke-width="1.2"/>
<text x="1941.0" y="1067.0" font-size="10" text-anchor="middle" fill="#222">PSM</text>
<text x="1196" y="881.7" font-size="12.5" fill="#222">ω<tspan font-size="9" dy="-4">*</tspan></text>
<text x="1324.3" y="832.7" font-size="12.5" fill="#222">i<tspan font-size="7" dy="1">sd</tspan><tspan font-size="9" dy="-5">*</tspan></text>
<text x="1522.7" y="832.3" font-size="12.5" fill="#222">u<tspan font-size="7" dy="1">d</tspan></text>
<text x="1522.7" y="881.7" font-size="12.5" fill="#222">u<tspan font-size="7" dy="1">q</tspan></text>
<text x="1626.0" y="847.5" font-size="12.5" fill="#222">u<tspan font-size="7" dy="1">sq</tspan></text>
<text x="1626.0" y="867.3" font-size="12.5" fill="#222">u<tspan font-size="7" dy="1">sd</tspan></text>
<text x="1780.3" y="847.7" font-size="12.5" fill="#222">u<tspan font-size="7" dy="1">sα</tspan></text>
<text x="1780.3" y="867.7" font-size="12.5" fill="#222">u<tspan font-size="7" dy="1">sβ</tspan></text>
<text x="1936.0" y="800.0" font-size="12.5" fill="#222">u<tspan font-size="7" dy="1">d</tspan></text>
<text x="1914.7" y="932.7" font-size="12.5" fill="#222">i<tspan font-size="7" dy="1">a</tspan></text>
<text x="1930.0" y="937.7" font-size="12.5" fill="#222">i<tspan font-size="7" dy="1">b</tspan></text>
<text x="1945.0" y="942.7" font-size="12.5" fill="#222">i<tspan font-size="7" dy="1">c</tspan></text>
<text x="1530.0" y="956.7" font-size="12.5" fill="#222">i<tspan font-size="7" dy="1">q</tspan></text>
<text x="1540.0" y="981.7" font-size="12.5" fill="#222">i<tspan font-size="7" dy="1">d</tspan></text>
<text x="1495.0" y="1051.7" font-size="12.5" fill="#222">ω<tspan font-size="6.5" dy="1">mech</tspan></text>
<text x="1697.3" y="941.7" font-size="10" font-weight="bold" fill="#222">ϑ<tspan font-size="6.5" dy="1">s</tspan></text>
<text x="1762.3" y="1036.7" font-size="10" font-weight="bold" fill="#222">ϑ<tspan font-size="6.5" dy="1">s</tspan></text>
</svg>
<svg style="left:0;top:2120px" width="1123" height="380" viewBox="0 2120 1123 380">
<line x1="233.3" y1="2152.7" x2="233.3" y2="2460.0" stroke="#e9e9e9" stroke-width="0.8"/>
<line x1="352.8" y1="2152.7" x2="352.8" y2="2460.0" stroke="#e9e9e9" stroke-width="0.8"/>
<line x1="472.3" y1="2152.7" x2="472.3" y2="2460.0" stroke="#e9e9e9" stroke-width="0.8"/>
<line x1="591.8" y1="2152.7" x2="591.8" y2="2460.0" stroke="#e9e9e9" stroke-width="0.8"/>
<line x1="711.3" y1="2152.7" x2="711.3" y2="2460.0" stroke="#e9e9e9" stroke-width="0.8"/>
<line x1="830.8" y1="2152.7" x2="830.8" y2="2460.0" stroke="#e9e9e9" stroke-width="0.8"/>
<line x1="950.3" y1="2152.7" x2="950.3" y2="2460.0" stroke="#e9e9e9" stroke-width="0.8"/>
<line x1="233.3" y1="2460.0" x2="950.3" y2="2460.0" stroke="#e9e9e9" stroke-width="0.8"/>
<line x1="233.3" y1="2408.8" x2="950.3" y2="2408.8" stroke="#e9e9e9" stroke-width="0.8"/>
<line x1="233.3" y1="2357.6" x2="950.3" y2="2357.6" stroke="#e9e9e9" stroke-width="0.8"/>
<line x1="233.3" y1="2306.3" x2="950.3" y2="2306.3" stroke="#e9e9e9" stroke-width="0.8"/>
<line x1="233.3" y1="2255.1" x2="950.3" y2="2255.1" stroke="#e9e9e9" stroke-width="0.8"/>
<line x1="233.3" y1="2203.9" x2="950.3" y2="2203.9" stroke="#e9e9e9" stroke-width="0.8"/>
<line x1="233.3" y1="2152.7" x2="950.3" y2="2152.7" stroke="#e9e9e9" stroke-width="0.8"/>
<rect x="233.3" y="2152.7" width="717.0" height="307.3" fill="none" stroke="#dcdcdc" stroke-width="0.8"/>
<polyline points="233.3,2152.7 233.3,2460.0 950.3,2460.0" fill="none" stroke="#8a8a8a" stroke-width="1"/>
<line x1="233.3" y1="2460.0" x2="233.3" y2="2457.0" stroke="#777" stroke-width="0.8"/>
<text x="230.6" y="2470.0" font-size="7.3" font-weight="bold" fill="#222" textLength="5.5" lengthAdjust="spacingAndGlyphs">0</text>
<line x1="352.8" y1="2460.0" x2="352.8" y2="2457.0" stroke="#777" stroke-width="0.8"/>
<text x="346.1" y="2470.0" font-size="7.3" font-weight="bold" fill="#222" textLength="13.5" lengthAdjust="spacingAndGlyphs">0.2</text>
<line x1="472.3" y1="2460.0" x2="472.3" y2="2457.0" stroke="#777" stroke-width="0.8"/>
<text x="465.6" y="2470.0" font-size="7.3" font-weight="bold" fill="#222" textLength="13.5" lengthAdjust="spacingAndGlyphs">0.4</text>
<line x1="591.8" y1="2460.0" x2="591.8" y2="2457.0" stroke="#777" stroke-width="0.8"/>
<text x="585.0" y="2470.0" font-size="7.3" font-weight="bold" fill="#222" textLength="13.5" lengthAdjust="spacingAndGlyphs">0.6</text>
<line x1="711.3" y1="2460.0" x2="711.3" y2="2457.0" stroke="#777" stroke-width="0.8"/>
<text x="704.5" y="2470.0" font-size="7.3" font-weight="bold" fill="#222" textLength="13.5" lengthAdjust="spacingAndGlyphs">0.8</text>
<line x1="830.8" y1="2460.0" x2="830.8" y2="2457.0" stroke="#777" stroke-width="0.8"/>
<text x="828.0" y="2470.0" font-size="7.3" font-weight="bold" fill="#222" textLength="5.5" lengthAdjust="spacingAndGlyphs">1</text>
<line x1="950.3" y1="2460.0" x2="950.3" y2="2457.0" stroke="#777" stroke-width="0.8"/>
<text x="943.5" y="2470.0" font-size="7.3" font-weight="bold" fill="#222" textLength="13.5" lengthAdjust="spacingAndGlyphs">1.2</text>
<line x1="233.3" y1="2460.0" x2="236.3" y2="2460.0" stroke="#777" stroke-width="0.8"/>
<text x="224.3" y="2462.6" font-size="7.3" font-weight="bold" fill="#222" textLength="5.7" lengthAdjust="spacingAndGlyphs">0</text>
<line x1="233.3" y1="2408.8" x2="236.3" y2="2408.8" stroke="#777" stroke-width="0.8"/>
<text x="215.2" y="2411.4" font-size="7.3" font-weight="bold" fill="#222" textLength="14.8" lengthAdjust="spacingAndGlyphs">0.2</text>
<line x1="233.3" y1="2357.6" x2="236.3" y2="2357.6" stroke="#777" stroke-width="0.8"/>
<text x="215.2" y="2360.2" font-size="7.3" font-weight="bold" fill="#222" textLength="14.8" lengthAdjust="spacingAndGlyphs">0.4</text>
<line x1="233.3" y1="2306.3" x2="236.3" y2="2306.3" stroke="#777" stroke-width="0.8"/>
<text x="215.2" y="2308.9" font-size="7.3" font-weight="bold" fill="#222" textLength="14.8" lengthAdjust="spacingAndGlyphs">0.6</text>
<line x1="233.3" y1="2255.1" x2="236.3" y2="2255.1" stroke="#777" stroke-width="0.8"/>
<text x="215.2" y="2257.7" font-size="7.3" font-weight="bold" fill="#222" textLength="14.8" lengthAdjust="spacingAndGlyphs">0.8</text>
<line x1="233.3" y1="2203.9" x2="236.3" y2="2203.9" stroke="#777" stroke-width="0.8"/>
<text x="224.3" y="2206.5" font-size="7.3" font-weight="bold" fill="#222" textLength="5.7" lengthAdjust="spacingAndGlyphs">1</text>
<line x1="233.3" y1="2152.7" x2="236.3" y2="2152.7" stroke="#777" stroke-width="0.8"/>
<text x="215.2" y="2155.3" font-size="7.3" font-weight="bold" fill="#222" textLength="14.8" lengthAdjust="spacingAndGlyphs">1.2</text>
<text x="485.0" y="2149.3" font-size="7.3" font-weight="bold" fill="#222" textLength="214.0" lengthAdjust="spacingAndGlyphs">Ergebnis Inbetriebnahme D-Stromregler</text>
<text x="573.3" y="2480.0" font-size="7.3" font-weight="bold" fill="#222" textLength="36.0" lengthAdjust="spacingAndGlyphs">Zeit [s]</text>
<text transform="translate(209.7,2324.0) rotate(-90)" font-size="10.5" fill="#111" stroke="#111" stroke-width="0.25" textLength="36.0" lengthAdjust="spacingAndGlyphs">Strom [A]</text>
<polyline points="233.3,2460.0 262.7,2448.3 285.7,2442.3 302.3,2432.7 324.0,2415.0 350.7,2388.3 374.3,2358.3 385.7,2345.7 410.0,2326.7 440.0,2307.7 459.3,2291.0 482.7,2273.3 505.0,2252.7 530.0,2235.0 565.0,2211.0 574.0,2202.7 584.3,2193.0 599.0,2187.7 617.7,2186.7 633.3,2193.3 650.0,2202.3 678.3,2202.0 703.6,2193.9 716.2,2190.3 732.4,2190.3 748.1,2194.4 761.7,2200.9 779.4,2210.0 796.1,2210.0 809.8,2203.5 818.4,2192.8 831.5,2187.3 847.7,2188.8 868.5,2199.9" fill="none" stroke="#0072bd" stroke-width="1.5" stroke-linejoin="round"/>
<polyline points="233.3,2460.0 257.2,2438.2 296.6,2403.4 352.8,2357.6 412.6,2313.3 472.3,2269.7 532.0,2225.7 550.0,2212.4 561.9,2207.2 573.9,2203.9 591.8,2201.3 606.7,2200.3 627.7,2201.3 711.3,2201.3 771.0,2202.4 812.9,2203.9 830.8,2203.9" fill="none" stroke="#d95319" stroke-width="1.25" stroke-linejoin="round"/>
<polyline points="233.3,2460.0 233.3,2203.9 830.8,2203.9" fill="none" stroke="#edb120" stroke-width="2.2" stroke-linejoin="round"/>
<rect x="753.1" y="2292.5" width="149.3" height="29.8" fill="#fff" stroke="#7a7a7a" stroke-width="0.7"/>
<line x1="756.7" y1="2298.6" x2="780.5" y2="2298.6" stroke="#0072bd" stroke-width="1.5"/>
<text x="783.0" y="2301.1" font-size="7" font-weight="bold" fill="#222" textLength="56.1" lengthAdjust="spacingAndGlyphs">Experiment</text>
<line x1="756.7" y1="2308.2" x2="780.5" y2="2308.2" stroke="#d95319" stroke-width="1.25"/>
<text x="783.0" y="2310.7" font-size="7" font-weight="bold" fill="#222" textLength="53.1" lengthAdjust="spacingAndGlyphs">Simulation</text>
<line x1="756.7" y1="2317.8" x2="780.5" y2="2317.8" stroke="#edb120" stroke-width="2.2"/>
<text x="783.0" y="2320.3" font-size="7" font-weight="bold" fill="#222" textLength="116.3" lengthAdjust="spacingAndGlyphs">Führungsgrößensprung</text>
<text x="923" y="2481.2" font-size="8.5" fill="#222" stroke="#222" stroke-width="0.2" textLength="26" lengthAdjust="spacingAndGlyphs">×10<tspan font-size="6" dy="-3.5">-3</tspan></text>
</svg>
<svg style="left:0;top:2500px" width="1123" height="390" viewBox="0 2500 1123 390">
<line x1="241.7" y1="2543.4" x2="241.7" y2="2834.0" stroke="#e9e9e9" stroke-width="0.8"/>
<line x1="360.9" y1="2543.4" x2="360.9" y2="2834.0" stroke="#e9e9e9" stroke-width="0.8"/>
<line x1="480.1" y1="2543.4" x2="480.1" y2="2834.0" stroke="#e9e9e9" stroke-width="0.8"/>
<line x1="599.3" y1="2543.4" x2="599.3" y2="2834.0" stroke="#e9e9e9" stroke-width="0.8"/>
<line x1="718.5" y1="2543.4" x2="718.5" y2="2834.0" stroke="#e9e9e9" stroke-width="0.8"/>
<line x1="837.7" y1="2543.4" x2="837.7" y2="2834.0" stroke="#e9e9e9" stroke-width="0.8"/>
<line x1="956.9" y1="2543.4" x2="956.9" y2="2834.0" stroke="#e9e9e9" stroke-width="0.8"/>
<line x1="241.7" y1="2834.0" x2="956.9" y2="2834.0" stroke="#e9e9e9" stroke-width="0.8"/>
<line x1="241.7" y1="2797.7" x2="956.9" y2="2797.7" stroke="#e9e9e9" stroke-width="0.8"/>
<line x1="241.7" y1="2761.3" x2="956.9" y2="2761.3" stroke="#e9e9e9" stroke-width="0.8"/>
<line x1="241.7" y1="2725.0" x2="956.9" y2="2725.0" stroke="#e9e9e9" stroke-width="0.8"/>
<line x1="241.7" y1="2688.7" x2="956.9" y2="2688.7" stroke="#e9e9e9" stroke-width="0.8"/>
<line x1="241.7" y1="2652.3" x2="956.9" y2="2652.3" stroke="#e9e9e9" stroke-width="0.8"/>
<line x1="241.7" y1="2616.0" x2="956.9" y2="2616.0" stroke="#e9e9e9" stroke-width="0.8"/>
<line x1="241.7" y1="2579.7" x2="956.9" y2="2579.7" stroke="#e9e9e9" stroke-width="0.8"/>
<line x1="241.7" y1="2543.4" x2="956.9" y2="2543.4" stroke="#e9e9e9" stroke-width="0.8"/>
<rect x="241.7" y="2543.4" width="715.2" height="290.6" fill="none" stroke="#dcdcdc" stroke-width="0.8"/>
<polyline points="241.7,2543.4 241.7,2834.0 956.9,2834.0" fill="none" stroke="#8a8a8a" stroke-width="1"/>
<line x1="241.7" y1="2834.0" x2="241.7" y2="2831.0" stroke="#777" stroke-width="0.8"/>
<text x="238.9" y="2843.3" font-size="7.3" font-weight="bold" fill="#222" textLength="5.5" lengthAdjust="spacingAndGlyphs">0</text>
<line x1="360.9" y1="2834.0" x2="360.9" y2="2831.0" stroke="#777" stroke-width="0.8"/>
<text x="352.1" y="2843.3" font-size="7.3" font-weight="bold" fill="#222" textLength="17.5" lengthAdjust="spacingAndGlyphs">0.02</text>
<line x1="480.1" y1="2834.0" x2="480.1" y2="2831.0" stroke="#777" stroke-width="0.8"/>
<text x="471.4" y="2843.3" font-size="7.3" font-weight="bold" fill="#222" textLength="17.5" lengthAdjust="spacingAndGlyphs">0.04</text>
<line x1="599.3" y1="2834.0" x2="599.3" y2="2831.0" stroke="#777" stroke-width="0.8"/>
<text x="590.5" y="2843.3" font-size="7.3" font-weight="bold" fill="#222" textLength="17.5" lengthAdjust="spacingAndGlyphs">0.06</text>
<line x1="718.5" y1="2834.0" x2="718.5" y2="2831.0" stroke="#777" stroke-width="0.8"/>
<text x="709.8" y="2843.3" font-size="7.3" font-weight="bold" fill="#222" textLength="17.5" lengthAdjust="spacingAndGlyphs">0.08</text>
<line x1="837.7" y1="2834.0" x2="837.7" y2="2831.0" stroke="#777" stroke-width="0.8"/>
<text x="831.0" y="2843.3" font-size="7.3" font-weight="bold" fill="#222" textLength="13.5" lengthAdjust="spacingAndGlyphs">0.1</text>
<line x1="956.9" y1="2834.0" x2="956.9" y2="2831.0" stroke="#777" stroke-width="0.8"/>
<text x="948.1" y="2843.3" font-size="7.3" font-weight="bold" fill="#222" textLength="17.5" lengthAdjust="spacingAndGlyphs">0.12</text>
<line x1="241.7" y1="2834.0" x2="244.7" y2="2834.0" stroke="#777" stroke-width="0.8"/>
<text x="232.7" y="2836.6" font-size="7.3" font-weight="bold" fill="#222" textLength="5.7" lengthAdjust="spacingAndGlyphs">0</text>
<line x1="241.7" y1="2797.7" x2="244.7" y2="2797.7" stroke="#777" stroke-width="0.8"/>
<text x="227.4" y="2800.3" font-size="7.3" font-weight="bold" fill="#222" textLength="11.0" lengthAdjust="spacingAndGlyphs">10</text>
<line x1="241.7" y1="2761.3" x2="244.7" y2="2761.3" stroke="#777" stroke-width="0.8"/>
<text x="227.4" y="2763.9" font-size="7.3" font-weight="bold" fill="#222" textLength="11.0" lengthAdjust="spacingAndGlyphs">20</text>
<line x1="241.7" y1="2725.0" x2="244.7" y2="2725.0" stroke="#777" stroke-width="0.8"/>
<text x="227.4" y="2727.6" font-size="7.3" font-weight="bold" fill="#222" textLength="11.0" lengthAdjust="spacingAndGlyphs">30</text>
<line x1="241.7" y1="2688.7" x2="244.7" y2="2688.7" stroke="#777" stroke-width="0.8"/>
<text x="227.4" y="2691.3" font-size="7.3" font-weight="bold" fill="#222" textLength="11.0" lengthAdjust="spacingAndGlyphs">40</text>
<line x1="241.7" y1="2652.3" x2="244.7" y2="2652.3" stroke="#777" stroke-width="0.8"/>
<text x="227.4" y="2654.9" font-size="7.3" font-weight="bold" fill="#222" textLength="11.0" lengthAdjust="spacingAndGlyphs">50</text>
<line x1="241.7" y1="2616.0" x2="244.7" y2="2616.0" stroke="#777" stroke-width="0.8"/>
<text x="227.4" y="2618.6" font-size="7.3" font-weight="bold" fill="#222" textLength="11.0" lengthAdjust="spacingAndGlyphs">60</text>
<line x1="241.7" y1="2579.7" x2="244.7" y2="2579.7" stroke="#777" stroke-width="0.8"/>
<text x="227.4" y="2582.3" font-size="7.3" font-weight="bold" fill="#222" textLength="11.0" lengthAdjust="spacingAndGlyphs">70</text>
<line x1="241.7" y1="2543.4" x2="244.7" y2="2543.4" stroke="#777" stroke-width="0.8"/>
<text x="227.4" y="2546.0" font-size="7.3" font-weight="bold" fill="#222" textLength="11.0" lengthAdjust="spacingAndGlyphs">80</text>
<text x="491.0" y="2540.0" font-size="7.3" font-weight="bold" fill="#222" textLength="216.7" lengthAdjust="spacingAndGlyphs">Ergebnis Inbetriebnahme Drehzahlregler</text>
<text x="581.0" y="2853.3" font-size="7.3" font-weight="bold" fill="#222" textLength="36.3" lengthAdjust="spacingAndGlyphs">Zeit [s]</text>
<text transform="translate(221.3,2742.7) rotate(-90)" font-size="10.5" fill="#111" stroke="#111" stroke-width="0.25" textLength="107.7" lengthAdjust="spacingAndGlyphs">Winkelgeschwindigkeit [rad/s]</text>
<polyline points="245.0,2833.8 258.3,2824.8 279.3,2811.8 288.3,2812.8 303.9,2794.2 323.9,2782.5 335.9,2773.2 348.2,2758.5 350.6,2753.9 362.2,2756.5 395.5,2725.5 403.9,2723.5 432.2,2696.6 438.2,2694.9 443.8,2696.6 457.5,2689.9 469.8,2667.6 482.1,2669.6 500.8,2665.6 510.5,2653.9 516.5,2650.6 530.5,2668.6 539.1,2668.6 553.1,2635.9 572.1,2662.6 585.7,2609.6 602.1,2652.2 620.7,2608.6 636.4,2652.9 644.7,2580.6 659.0,2667.6 669.0,2631.9 679.7,2633.6 697.0,2611.6 702.3,2640.9 715.7,2567.3 740.5,2639.1 754.2,2600.2 765.3,2666.9 778.4,2597.1 791.6,2652.8 811.8,2617.9 824.0,2635.1 836.1,2594.1 858.9,2647.7 872.0,2575.4" fill="none" stroke="#0072bd" stroke-width="1.5" stroke-linejoin="round"/>
<polyline points="241.7,2832.9 656.5,2648.4 667.8,2641.5 679.2,2639.3 694.7,2641.5 708.4,2645.1 837.7,2645.1" fill="none" stroke="#d95319" stroke-width="1.25" stroke-linejoin="round"/>
<polyline points="241.7,2834.0 241.7,2645.1 837.7,2645.1" fill="none" stroke="#edb120" stroke-width="2.2" stroke-linejoin="round"/>
<rect x="792.1" y="2799.0" width="150.2" height="28.8" fill="#fff" stroke="#7a7a7a" stroke-width="0.7"/>
<line x1="795.6" y1="2804.6" x2="819.9" y2="2804.6" stroke="#0072bd" stroke-width="1.5"/>
<text x="822.4" y="2807.1" font-size="7" font-weight="bold" fill="#222" textLength="56.1" lengthAdjust="spacingAndGlyphs">Experiment</text>
<line x1="795.6" y1="2814.2" x2="819.9" y2="2814.2" stroke="#d95319" stroke-width="1.25"/>
<text x="822.4" y="2816.7" font-size="7" font-weight="bold" fill="#222" textLength="53.1" lengthAdjust="spacingAndGlyphs">Simulation</text>
<line x1="795.6" y1="2823.3" x2="819.9" y2="2823.3" stroke="#edb120" stroke-width="2.2"/>
<text x="822.4" y="2825.8" font-size="7" font-weight="bold" fill="#222" textLength="116.4" lengthAdjust="spacingAndGlyphs">Führungsgrößensprung</text>

</svg>
<svg style="left:1140px;top:1980px" width="1000" height="520" viewBox="0 0 1621 843">
<defs>
<filter id="bl" x="-10%" y="-30%" width="120%" height="160%"><feGaussianBlur stdDeviation="13"/></filter>
<linearGradient id="gcap" x1="0" y1="0" x2="1" y2="0"><stop offset="0" stop-color="#b8141b"/><stop offset="0.18" stop-color="#ee3a40"/><stop offset="0.45" stop-color="#dc262d"/><stop offset="0.8" stop-color="#a81117"/><stop offset="1" stop-color="#6a080c"/></linearGradient>
<linearGradient id="gpil" x1="0" y1="0" x2="1" y2="0"><stop offset="0" stop-color="#b2b6bb"/><stop offset="0.5" stop-color="#a8acb1"/><stop offset="0.52" stop-color="#6d7075"/><stop offset="1" stop-color="#74777c"/></linearGradient>
<linearGradient id="gcoil" x1="0" y1="0" x2="1" y2="0"><stop offset="0" stop-color="#c4555b"/><stop offset="0.3" stop-color="#f08088"/><stop offset="0.6" stop-color="#c4454d"/><stop offset="0.85" stop-color="#7a1d22"/><stop offset="1" stop-color="#4a1013"/></linearGradient>
<linearGradient id="gsil" x1="0" y1="0" x2="1" y2="0"><stop offset="0" stop-color="#9a9a9a"/><stop offset="0.4" stop-color="#f2f2f2"/><stop offset="1" stop-color="#a8a8a8"/></linearGradient>
<linearGradient id="ggreen" x1="0" y1="0" x2="1" y2="0"><stop offset="0" stop-color="#23a035"/><stop offset="0.5" stop-color="#168c2f"/><stop offset="0.8" stop-color="#1c9a37"/><stop offset="1" stop-color="#138a30"/></linearGradient>
<clipPath id="shc"><rect x="0" y="560" width="1531" height="283"/></clipPath>
</defs>
<!-- shadow -->
<g clip-path="url(#shc)"><polygon points="160,702 1100,612 1560,690 1560,712 480,798 335,783 285,750 160,716" fill="#828282" filter="url(#bl)"/></g>
<!-- bottom PCB -->
<polygon points="236,466 452,529 1491,449 1425,396 600,418 300,440" fill="#1d3d24"/>
<polygon points="236,466 452,529 1491,449 1491,456 452,537 236,472" fill="#d6d6bc"/>
<polygon points="580,478 1480,440 1480,447 580,500" fill="#2a5232"/>
<!-- under-board parts -->
<polygon points="783,512 960,498 962,520 900,530 800,528" fill="#e2a6e4"/>
<polygon points="1040,490 1183,482 1183,500 1130,512 1060,512" fill="#9fb0c4"/>
<rect x="546" y="531" width="16" height="17" fill="#2f9e80"/><rect x="1020" y="492" width="16" height="17" fill="#2f9e80"/><rect x="1391" y="464" width="13" height="17" fill="#2f9e80"/>
<!-- back pillars -->
<rect x="293" y="175" width="32" height="215" fill="url(#gpil)"/>
<rect x="757" y="141" width="28" height="170" fill="url(#gpil)"/>
<!-- small toroids -->
<circle cx="417" cy="368" r="45" fill="#8a5a44"/><circle cx="417" cy="368" r="33" fill="#77787c"/><circle cx="417" cy="372" r="14" fill="#4a4a4c"/>
<circle cx="500" cy="352" r="36" fill="#8a5a44"/><circle cx="500" cy="352" r="25" fill="#77787c"/>
<!-- red box -->
<polygon points="415,362 442,366 442,442 415,430" fill="#e01414"/><polygon points="442,366 516,360 516,440 442,442" fill="#8f0d0d"/><polygon points="415,362 490,357 516,360 442,366" fill="#c01212"/>
<!-- red toroid -->
<path d="M826,300 C840,262 880,243 930,243 C962,250 985,290 985,330 C985,375 965,410 940,420 L905,422 L896,420 L896,300 Z" fill="#e01a14"/>
<path d="M826,300 C840,262 880,243 930,243 C905,255 895,280 896,300 Z" fill="#c41410"/>
<g stroke="#a80e0a" stroke-width="1.6"><line x1="900" y1="262" x2="967" y2="262"/><line x1="900" y1="273" x2="969" y2="273"/><line x1="900" y1="284" x2="972" y2="284"/><line x1="900" y1="295" x2="974" y2="295"/><line x1="900" y1="306" x2="976" y2="306"/><line x1="900" y1="317" x2="978" y2="317"/><line x1="900" y1="328" x2="980" y2="328"/><line x1="900" y1="339" x2="980" y2="339"/><line x1="900" y1="350" x2="978" y2="350"/><line x1="900" y1="361" x2="976" y2="361"/><line x1="900" y1="372" x2="974" y2="372"/><line x1="900" y1="383" x2="972" y2="383"/><line x1="900" y1="394" x2="969" y2="394"/><line x1="900" y1="405" x2="967" y2="405"/></g>
<g stroke="#58b070" stroke-width="2.2"><line x1="910" y1="279.0" x2="970" y2="279.0"/><line x1="910" y1="291.2" x2="970" y2="291.2"/><line x1="910" y1="303.4" x2="970" y2="303.4"/><line x1="910" y1="315.6" x2="970" y2="315.6"/><line x1="910" y1="327.8" x2="970" y2="327.8"/><line x1="910" y1="340.0" x2="970" y2="340.0"/><line x1="910" y1="352.2" x2="970" y2="352.2"/><line x1="910" y1="364.4" x2="970" y2="364.4"/><line x1="910" y1="376.6" x2="970" y2="376.6"/></g>
<g stroke="#a80e0a" stroke-width="1.5"><line x1="876.8" y1="313.1" x2="829.8" y2="303.2"/><line x1="878.8" y1="306.0" x2="835.0" y2="290.4"/><line x1="881.4" y1="299.5" x2="842.0" y2="278.6"/><line x1="884.5" y1="293.8" x2="850.4" y2="268.2"/><line x1="888.2" y1="289.0" x2="860.3" y2="259.4"/><line x1="892.3" y1="285.1" x2="871.2" y2="252.4"/><line x1="896.7" y1="282.4" x2="882.9" y2="247.5"/><line x1="901.3" y1="280.9" x2="895.3" y2="244.7"/><line x1="906.0" y1="280.5" x2="907.8" y2="244.1"/></g>
<!-- pink block -->
<rect x="766" y="304" width="130" height="146" fill="#8f6a9a"/><polygon points="744,312 766,304 766,450 744,446" fill="#e2a8e6"/><polygon points="744,312 770,300 896,300 896,306 766,306" fill="#a47fb0"/>
<!-- coil -->
<rect x="516" y="268" width="230" height="185" rx="18" fill="url(#gcoil)"/>
<g stroke="#a86a48" stroke-width="3" fill="none"><path d="M522,290 V440"/><path d="M575,283 V450"/><path d="M600,283 V450"/><path d="M630,283 V450"/><path d="M655,283 V450"/><path d="M680,283 V450"/><path d="M705,283 V450"/><path d="M742,290 V445"/></g>
<polygon points="574,268 718,272 718,286 700,286 690,280 640,280 630,286 574,282" fill="#6e5836"/><rect x="618" y="259" width="24" height="9" fill="#4e3c22"/>
<polygon points="560,446 745,442 752,468 700,488 580,489 560,470" fill="#7d6440"/><polygon points="580,470 700,468 740,474 700,488 580,489" fill="#5a4628"/>
<!-- silver caps -->
<g><rect x="836" y="412" width="62" height="52" fill="url(#gsil)"/><ellipse cx="867" cy="412" rx="31" ry="9" fill="#ededed"/><ellipse cx="867" cy="464" rx="31" ry="7" fill="#bdbdbd"/>
<rect x="893" y="445" width="30" height="28" fill="url(#gsil)"/><ellipse cx="908" cy="445" rx="15" ry="5" fill="#f0f0f0"/>
<rect x="923" y="452" width="34" height="28" fill="url(#gsil)"/><ellipse cx="940" cy="452" rx="17" ry="5" fill="#f0f0f0"/>
<rect x="974" y="440" width="32" height="27" fill="url(#gsil)"/><ellipse cx="990" cy="440" rx="16" ry="5" fill="#f0f0f0"/>
</g>
<!-- capacitors -->
<g>
<path d="M1070,166 Q1070,152 1160,152 Q1250,152 1250,166 V418 Q1250,430 1160,430 Q1070,430 1070,418 Z" fill="url(#gcap)"/>
<rect x="1079" y="158" width="26" height="268" fill="#e6e6e6"/><rect x="1084" y="218" width="14" height="4" fill="#cc2222"/><rect x="1082" y="331" width="14" height="4" fill="#cc2222"/>
<path d="M1199,176 Q1199,162 1290,162 Q1381,162 1381,176 V438 Q1381,451 1290,451 Q1199,451 1199,438 Z" fill="url(#gcap)"/>
<rect x="1202" y="168" width="26" height="278" fill="#e6e6e6"/><rect x="1206" y="232" width="14" height="4" fill="#cc2222"/><rect x="1204" y="350" width="14" height="4" fill="#cc2222"/>
<path d="M1075,395 Q1160,408 1199,400" stroke="#8a0d12" stroke-width="2" fill="none"/><path d="M1204,415 Q1290,430 1378,415" stroke="#8a0d12" stroke-width="2" fill="none"/>
<g fill="#fff" font-size="16">
<text x="1118" y="276.5" textLength="61" lengthAdjust="spacingAndGlyphs">Marking</text><text x="1243" y="292.5" textLength="63" lengthAdjust="spacingAndGlyphs">Marking</text>
<text x="1142" y="318.5" font-size="10">-NEG</text><text x="1270" y="336" font-size="10">-NEG</text>
<text x="1119" y="227" font-size="26" font-weight="bold" font-style="italic" textLength="40" lengthAdjust="spacingAndGlyphs">WE</text><text x="1243" y="241" font-size="26" font-weight="bold" font-style="italic" textLength="40" lengthAdjust="spacingAndGlyphs">WE</text>
</g>
<g stroke="#fff" stroke-width="1.2" fill="none"><circle cx="1129" cy="314" r="5"/><circle cx="1256" cy="331" r="5"/><path d="M1160,208h20M1160,215h20M1160,222h20M1118,233h62"/><path d="M1285,222h20M1285,229h20M1285,236h20M1243,247h62"/></g>
</g>
<rect x="1138" y="414" width="31" height="25" fill="url(#gsil)"/><ellipse cx="1153.5" cy="414" rx="15.5" ry="5" fill="#f0f0f0"/><rect x="1215" y="438" width="50" height="12" fill="#222"/>
<!-- pcb details -->
<g fill="#cfd6bd"><polygon points="1105,452 1180,448 1185,457 1110,462"/><polygon points="1040,470 1095,466 1100,476 1045,480"/><polygon points="1170,462 1230,458 1236,468 1176,472"/><polygon points="880,478 960,472 966,482 886,488"/><polygon points="640,486 700,482 705,491 645,496"/><ellipse cx="800" cy="470" rx="14" ry="5"/><ellipse cx="740" cy="476" rx="10" ry="4"/></g>
<g fill="#6b8a6b"><rect x="930" y="430" width="30" height="6"/><rect x="990" y="425" width="20" height="8"/><rect x="1060" y="420" width="12" height="20"/><rect x="1085" y="430" width="40" height="7"/></g>
<!-- grey connectors bottom-left -->
<g>
<polygon points="158,395 200,385 350,388 372,400 372,470 230,478 158,455" fill="#727272"/><polygon points="170,388 300,380 350,388 200,396" fill="#8c8c8c"/>
<polygon points="275,450 330,425 480,428 512,440 512,500 420,510 275,480" fill="#777777"/><polygon points="320,420 470,415 512,436 360,440" fill="#8f8f8f"/>
<polygon points="330,478 420,470 500,480 500,505 400,512 330,500" fill="#6d6d6d"/>
<rect x="163" y="402" width="8" height="50" fill="#5c5c5c"/><rect x="186" y="402" width="8" height="55" fill="#5c5c5c"/><rect x="208" y="402" width="8" height="60" fill="#5c5c5c"/>
</g>
<!-- brown blocks -->
<rect x="429" y="490" width="53" height="35" fill="#9a4f2c"/><rect x="431" y="148" width="53" height="27" fill="#9a4f2c"/><rect x="166" y="118" width="21" height="25" fill="#9a4f2c"/>
<!-- front pillars -->
<rect x="537" y="143" width="37" height="372" fill="url(#gpil)"/>
<rect x="1020" y="136" width="33" height="342" fill="url(#gpil)"/>
<rect x="1388" y="129" width="37" height="322" fill="url(#gpil)"/>
<!-- top-left connectors -->
<g>
<rect x="176" y="125" width="22" height="15" rx="6" fill="#cfcfcf"/><rect x="176" y="153" width="24" height="15" rx="6" fill="#cfcfcf"/>
<polygon points="424,176 470,172 487,180 487,222 470,236 424,240" fill="#242424"/>
<polygon points="386,152 420,150 434,172 434,225 420,242 390,240" fill="#b9b9b9"/><polygon points="404,151 420,150 434,172 434,225 420,242 406,241 418,222 418,172" fill="#8e8e8e"/>
<polygon points="336,151 386,152 400,170 400,222 388,238 340,237 326,215 326,172" fill="#6f6f6f"/><polygon points="336,151 352,152 362,172 362,218 352,237 340,237 326,215 326,172" fill="#9a9a9a"/>
<polygon points="309,172 340,168 346,176 346,214 340,221 312,219" fill="#1e1e1e"/><rect x="328" y="180" width="10" height="3" fill="#b89a30"/><rect x="328" y="207" width="10" height="3" fill="#b89a30"/>
<polygon points="284,146 312,150 324,172 324,196 312,203 290,204" fill="#a9a9a9"/>
<polygon points="270,146 290,146 300,160 300,192 290,204 270,204 262,192 262,160" fill="#d2d2d2"/><ellipse cx="280" cy="175" rx="11" ry="19" fill="#b4b4b4"/><ellipse cx="281" cy="175" rx="7" ry="13" fill="#d8d8d8"/>
<polygon points="222,138 250,140 262,160 262,186 250,196 228,196" fill="#a9a9a9"/>
<polygon points="207,136 228,136 238,150 238,182 228,195 207,195 199,182 199,150" fill="#d2d2d2"/><ellipse cx="218" cy="165" rx="11" ry="19" fill="#b4b4b4"/><ellipse cx="219" cy="165" rx="7" ry="13" fill="#d8d8d8"/>
</g>
<!-- dark connectors under board right -->
<rect x="1160" y="134" width="60" height="22" fill="#4b4b4b"/><rect x="1235" y="134" width="58" height="22" fill="#4b4b4b"/><rect x="1316" y="130" width="75" height="16" fill="#5c5c5c"/><rect x="1430" y="128" width="40" height="22" fill="#8a8a8a"/>
<rect x="1183" y="134" width="10" height="10" fill="#d07a20"/><rect x="1262" y="134" width="10" height="10" fill="#d07a20"/>
<rect x="1400" y="415" width="65" height="30" fill="#6a6a6a"/>
<!-- green top board -->
<polygon points="165.6,108.5 1132,99 1503,119 1503,129 454,145 165.6,116" fill="url(#ggreen)"/>
<polygon points="165.6,108.5 454,138.5 454,146 165.6,117" fill="#3fca42"/>
<polygon points="454,138.5 1503,122 1503,129 454,146" fill="#0e6e25"/>
<g fill="#444"><rect x="222" y="103" width="8" height="6"/><rect x="245" y="105" width="8" height="6"/><rect x="290" y="108" width="9" height="7"/><rect x="345" y="113" width="9" height="7"/><rect x="395" y="118" width="10" height="8"/><rect x="428" y="120" width="14" height="9" fill="#c9b458"/><rect x="452" y="122" width="10" height="8"/></g>
</svg>
<svg style="left:1640px;top:120px" width="500" height="140" viewBox="1640 120 500 140">
<g transform="translate(1620,100) scale(0.33312)" fill="#000">
<rect x="118" y="103" width="68" height="334"/><rect x="316" y="103" width="68" height="334"/><rect x="180" y="235" width="140" height="60"/>
<rect x="425" y="103" width="245" height="57"/><rect x="513" y="150" width="70" height="287"/>
</g>
<g transform="translate(1850,120) scale(0.17274)">
<path fill="#000" d="M35,85 L165,85 L272,548 L397,85 L527,85 L648,552 L755,85 L880,85 L803,490 L775,522 L572,722 L462,275 L345,722 L192,722 Z"/>
<path fill="#fff" d="M880,722 L880,685 Q880,672 895,670 L960,660 Q975,657 975,640 L985,325 L1075,240 L1075,650 Q1075,662 1090,662 L1215,662 C1340,662 1410,560 1410,400 C1410,250 1330,140 1178,135 L1230,85 C1420,85 1522,220 1522,400 C1522,590 1420,722 1250,722 Z"/>
</g>
</svg>
<div class="abs" style="left:134px;top:2930px;width:1978px;height:2px;background:#7f7f7f;"></div>
<div class="abs" style="left:1329px;top:2996px;width:745px;height:102px;background:#e8f1dc;"></div>
<svg style="left:1329px;top:2996px" width="745" height="102" viewBox="1329 2996 745 102">
<g transform="translate(1380,2985) scale(0.11104)" fill="none" stroke="#1b6b35" stroke-width="61" stroke-linecap="round" stroke-linejoin="round">
<path d="M550,420 L550,310 A166,166 0 0 0 218,310 L218,505 L385,625 L385,828"/>
<path d="M385,292 L385,455 L550,565 L550,965 L715,965 L715,632 L905,632"/>
<path d="M218,702 L218,825 A140,140 0 0 0 358,965 L405,965"/>
<path d="M625,145 L905,145 L905,315 L715,315 L715,465 L905,465"/>
</g>
<text x="1511.4" y="3046.2" font-size="36.3" fill="#1b6b35" textLength="487" lengthAdjust="spacingAndGlyphs">Automationselektronik GmbH</text>
<text x="1759.6" y="3069.9" font-size="16.8" fill="#7ab829" textLength="237.5" lengthAdjust="spacingAndGlyphs">www.automationselektronik.de</text>
</svg>

</body></html>
